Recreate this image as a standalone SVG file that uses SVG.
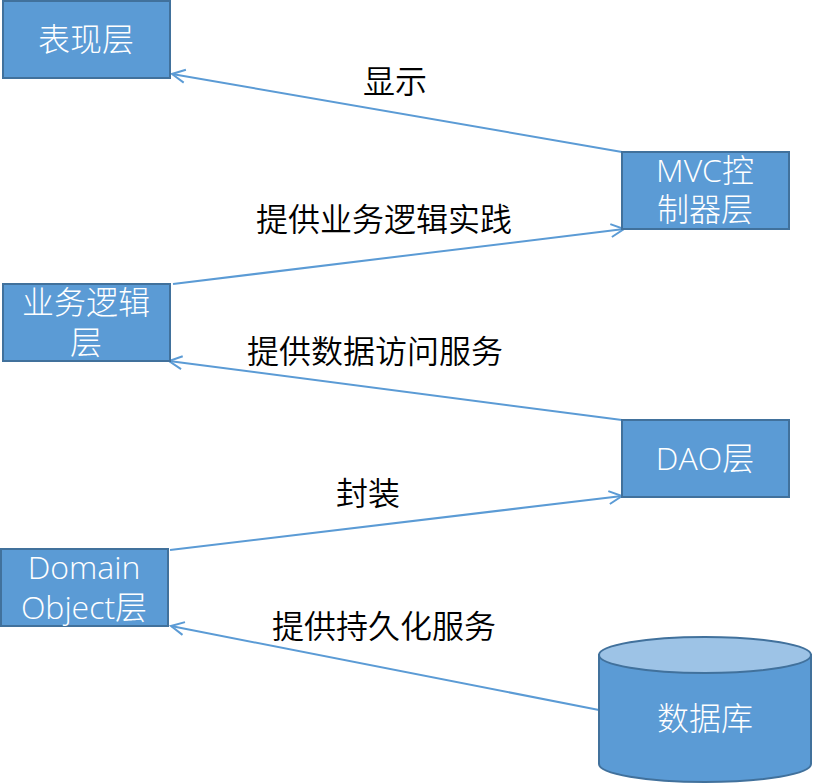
<svg xmlns="http://www.w3.org/2000/svg" width="814" height="784" viewBox="0 0 814 784">
<style>
.box{fill:#5B9BD5;stroke:#41719C;stroke-width:2}
.nt{fill:#FFFFFF;font-family:"Open Sans","Noto Sans CJK SC",sans-serif;font-size:32px;font-weight:300;text-anchor:middle}
.lb{fill:#000000;font-family:"Noto Sans CJK SC",sans-serif;font-size:32px;font-weight:350;text-anchor:middle}
.cn{fill:none;stroke:#5B9BD5;stroke-width:2}
</style>
<defs>
<marker id="arr" markerUnits="userSpaceOnUse" markerWidth="20" markerHeight="20" viewBox="-16 -10 20 20" refX="0" refY="0" orient="auto">
<path d="M-13,-6.5 L0,0 L-13,6.5" fill="none" stroke="#5B9BD5" stroke-width="2"/>
</marker>
</defs>
<rect width="814" height="784" fill="#FFFFFF"/>
<g id="connectors">
<line class="cn" x1="622" y1="152" x2="172" y2="74" marker-end="url(#arr)"/>
<line class="cn" x1="173" y1="284" x2="624" y2="229" marker-end="url(#arr)"/>
<line class="cn" x1="622" y1="420" x2="169" y2="361" marker-end="url(#arr)"/>
<line class="cn" x1="170" y1="550" x2="622" y2="496" marker-end="url(#arr)"/>
<line class="cn" x1="599" y1="710" x2="171" y2="626" marker-end="url(#arr)"/>
</g>
<g id="labels">
<text class="lb" x="395" y="93">显示</text>
<text class="lb" x="384" y="231">提供业务逻辑实践</text>
<text class="lb" x="375" y="363">提供数据访问服务</text>
<text class="lb" x="368" y="505">封装</text>
<text class="lb" x="384" y="638">提供持久化服务</text>
</g>
<g id="node-presentation">
<rect class="box" x="3" y="1" width="167" height="77"/>
<text class="nt" x="86" y="51">表现层</text>
</g>
<g id="node-mvc">
<rect class="box" x="622" y="152" width="167" height="77"/>
<text class="nt" x="705" y="182">MVC控</text>
<text class="nt" x="705" y="221">制器层</text>
</g>
<g id="node-business">
<rect class="box" x="3" y="284" width="167" height="77"/>
<text class="nt" x="86" y="314">业务逻辑</text>
<text class="nt" x="86" y="354">层</text>
</g>
<g id="node-dao">
<rect class="box" x="622" y="420" width="167" height="77"/>
<text class="nt" x="705" y="470">DAO层</text>
</g>
<g id="node-domain">
<rect class="box" x="1" y="549" width="167" height="77"/>
<text class="nt" x="84" y="579">Domain</text>
<text class="nt" x="84" y="619">Object层</text>
</g>
<g id="node-database">
<path d="M599,655 L599,764 A106,18 0 0,0 811,764 L811,655 Z" fill="#5B9BD5" stroke="#41719C" stroke-width="2"/>
<ellipse cx="705" cy="655" rx="106" ry="18" fill="#9DC3E6" stroke="#41719C" stroke-width="2"/>
<text class="nt" x="705" y="730">数据库</text>
</g>
</svg>
